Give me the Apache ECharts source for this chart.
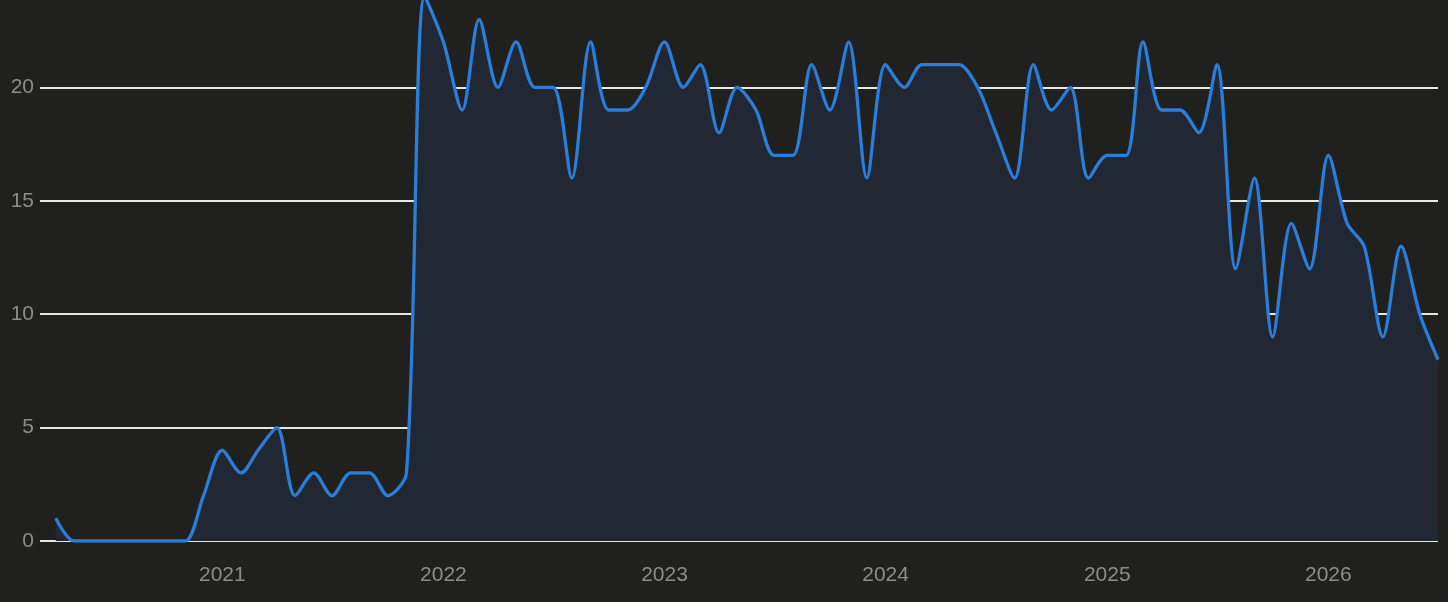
<!DOCTYPE html>
<html>
<head>
<meta charset="utf-8">
<style>
  html, body { margin: 0; padding: 0; background: #20201f; }
  #main { width: 1448px; height: 602px; }
</style>
<script src="https://cdn.jsdelivr.net/npm/echarts@6/dist/echarts.min.js"></script>
</head>
<body>
<div id="main"></div>
<script>
// monthly points
var months = [
  '2020-04-01', '2020-05-01', '2020-06-01', '2020-07-01', '2020-08-01', '2020-09-01', '2020-10-01', '2020-11-01', '2020-12-01',
  '2021-01-01', '2021-02-01', '2021-03-01', '2021-04-01', '2021-05-01', '2021-06-01', '2021-07-01', '2021-08-01', '2021-09-01', '2021-10-01', '2021-11-01', '2021-12-01',
  '2022-01-01', '2022-02-01', '2022-03-01', '2022-04-01', '2022-05-01', '2022-06-01', '2022-07-01', '2022-08-01', '2022-09-01', '2022-10-01', '2022-11-01', '2022-12-01',
  '2023-01-01', '2023-02-01', '2023-03-01', '2023-04-01', '2023-05-01', '2023-06-01', '2023-07-01', '2023-08-01', '2023-09-01', '2023-10-01', '2023-11-01', '2023-12-01',
  '2024-01-01', '2024-02-01', '2024-03-01', '2024-04-01', '2024-05-01', '2024-06-01', '2024-07-01', '2024-08-01', '2024-09-01', '2024-10-01', '2024-11-01', '2024-12-01',
  '2025-01-01', '2025-02-01', '2025-03-01', '2025-04-01', '2025-05-01', '2025-06-01', '2025-07-01', '2025-08-01', '2025-09-01', '2025-10-01', '2025-11-01', '2025-12-01',
  '2026-01-01', '2026-02-01', '2026-03-01', '2026-04-01', '2026-05-01', '2026-06-01', '2026-07-01'
];
var counts = [
  1, 0, 0, 0, 0, 0, 0, 0, 2,
  4, 3, 4, 5, 2, 3, 2, 3, 3, 2, 3, 24,
  22, 19, 23, 20, 22, 20, 20, 16, 22, 19, 19, 20,
  22, 20, 21, 18, 20, 19, 17, 17, 21, 19, 22, 16,
  21, 20, 21, 21, 21, 20, 18, 16, 21, 19, 20, 16,
  17, 17, 22, 19, 19, 18, 21, 12, 16, 9, 14, 12,
  17, 14, 13, 9, 13, 10, 8
];
var yTicks = [0, 5, 10, 15, 20];

var points = [];
for (var i = 0; i < months.length; i++) {
  points.push([months[i], counts[i]]);
}

var myChart = echarts.init(document.getElementById('main'));
var option = {
  backgroundColor: '#20201f',
  animation: false,
  grid: { left: 40, right: 10, top: 0, bottom: 61, containLabel: false },
  xAxis: {
    type: 'time',
    min: '2020-03-06',
    max: '2026-07-01',
    axisLine: { show: false },
    axisTick: { show: false },
    splitLine: { show: false },
    axisLabel: {
      color: '#8c8c8a',
      fontSize: 21,
      fontFamily: 'Liberation Sans, Arial, sans-serif',
      margin: 24,
      formatter: function (v) {
        var d = new Date(v);
        return (d.getMonth() === 0 && d.getDate() === 1) ? String(d.getFullYear()) : '';
      }
    }
  },
  yAxis: {
    type: 'value',
    min: 0,
    max: 23.85,
    interval: 5,
    axisLine: { show: false },
    axisTick: { show: false },
    splitLine: { showMaxLine: false, lineStyle: { color: '#e8e8e3', width: 2 } },
    axisLabel: {
      color: '#8c8c8a',
      fontSize: 21,
      fontFamily: 'Liberation Sans, Arial, sans-serif',
      margin: 6,
      showMaxLabel: false,
      formatter: function (v) { return yTicks.indexOf(v) >= 0 ? String(v) : ''; }
    }
  },
  series: [{
    type: 'line',
    data: points,
    smooth: 0.3,
    showSymbol: false,
    symbol: 'none',
    lineStyle: { color: '#2a7dd8', width: 3.3 },
    areaStyle: { color: '#222833', opacity: 1 }
  }]
};
myChart.setOption(option);
</script>
</body>
</html>
